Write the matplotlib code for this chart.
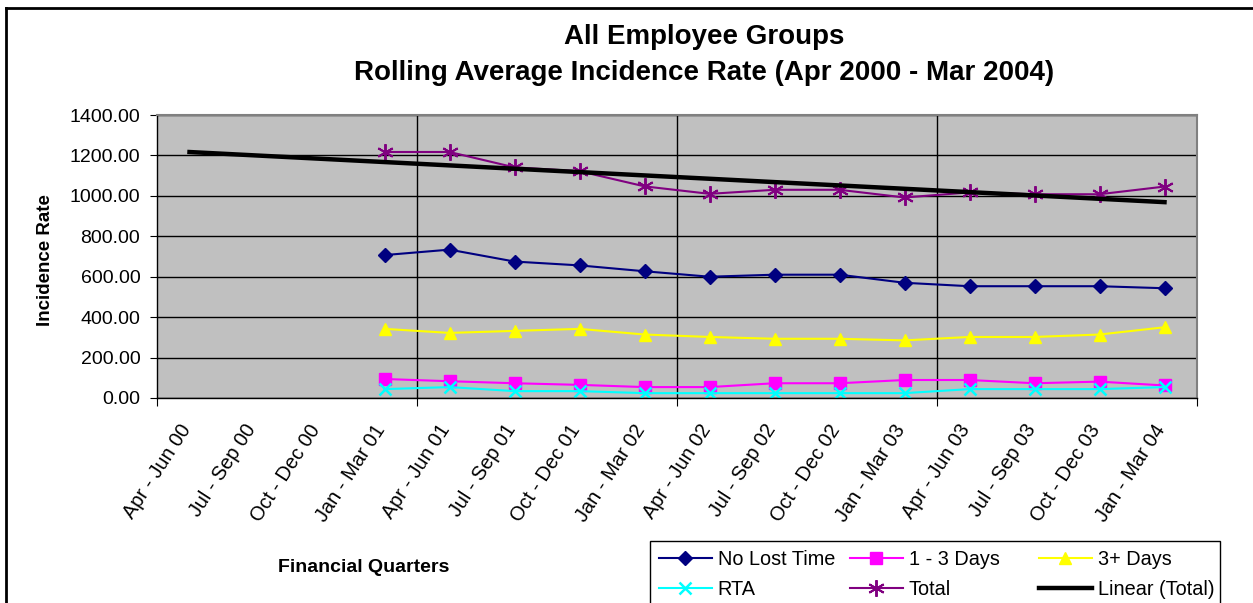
import numpy as np
import matplotlib
matplotlib.use("Agg")
import matplotlib.pyplot as plt
import matplotlib.transforms as mtransforms
from matplotlib.patches import Rectangle
from matplotlib.lines import Line2D

plt.rcParams['font.family'] = ['Liberation Sans', 'DejaVu Sans']

quarters = ["Apr - Jun 00", "Jul - Sep 00", "Oct - Dec 00", "Jan - Mar 01",
            "Apr - Jun 01", "Jul - Sep 01", "Oct - Dec 01", "Jan - Mar 02",
            "Apr - Jun 02", "Jul - Sep 02", "Oct - Dec 02", "Jan - Mar 03",
            "Apr - Jun 03", "Jul - Sep 03", "Oct - Dec 03", "Jan - Mar 04"]
data_start = 3  # first quarter with data (Jan - Mar 01)

no_lost_time = [707, 734, 675, 656, 627, 600, 610, 610, 570, 553, 553, 553, 543]
one_three_days = [94, 83, 73, 65, 54, 54, 73, 73, 89, 89, 73, 81, 62]
three_plus_days = [342, 322, 332, 342, 314, 302, 293, 293, 285, 302, 302, 314, 350]
rta = [44, 54, 34, 34, 24, 24, 24, 24, 24, 44, 44, 44, 54]
total = [1217, 1217, 1141, 1122, 1047, 1010, 1030, 1030, 992, 1017, 1008, 1008, 1046]

W, H = 1253, 603
fig = plt.figure(figsize=(W / 100, H / 100), dpi=100)
fig.patch.set_facecolor('white')

# outer chart border (only top and left visible in the crop)
fig.add_artist(Line2D([6 / W, 6 / W], [0, 1 - 8 / H], transform=fig.transFigure, color='black', lw=2))
fig.add_artist(Line2D([6 / W, 1], [1 - 8 / H, 1 - 8 / H], transform=fig.transFigure, color='black', lw=2))

ax = fig.add_axes([157 / W, 1 - 398 / H, (1197 - 157) / W, (398 - 115) / H])
ax.set_facecolor('#C0C0C0')

x = np.arange(data_start, data_start + len(total))
h_nlt, = ax.plot(x, no_lost_time, color='#000080', marker='D', ms=7.5, lw=1.5, label='No Lost Time')
h_13, = ax.plot(x, one_three_days, color='#FF00FF', marker='s', ms=8, lw=1.5, label='1 - 3 Days')
h_3p, = ax.plot(x, three_plus_days, color='#FFFF00', marker='^', ms=9, lw=1.5, label='3+ Days')
h_rta, = ax.plot(x, rta, color='#00FFFF', marker='x', ms=9, mew=1.8, lw=1.5, label='RTA')
h_tot, = ax.plot(x, total, color='#800080', marker=(6, 2, 0), ms=12, mew=1.4, lw=1.5, label='Total')

coef = np.polyfit(x, total, 1)
xt = np.arange(0, len(quarters))
h_lin, = ax.plot(xt, np.polyval(coef, xt), color='black', lw=3.2, label='Linear (Total)')

ax.set_xlim(-0.5, len(quarters) - 0.5)
ax.set_ylim(0, 1400)
ax.set_yticks(np.arange(0, 1401, 200))
ax.set_yticklabels([f"{v:.2f}" for v in np.arange(0, 1401, 200)], fontsize=14)
ax.yaxis.grid(True, color='black', lw=1)
ax.set_axisbelow(True)

ax.set_xticks([-0.5, 3.5, 7.5, 11.5, 15.5])
ax.set_xticklabels([])
ax.set_xticks(np.arange(len(quarters)), minor=True)
ax.tick_params(axis='x', which='minor', length=0, pad=8)
ax.tick_params(axis='x', which='major', length=6, direction='out', color='black')
ax.tick_params(axis='y', length=5, direction='out', color='black', pad=7)
ax.set_xticklabels(quarters, minor=True, rotation=57, ha='right', va='top',
                   rotation_mode='anchor', fontsize=14.3)
offset = mtransforms.ScaledTranslation(-11 / 100, -12 / 100, fig.dpi_scale_trans)
for lab in ax.xaxis.get_minorticklabels():
    lab.set_transform(lab.get_transform() + offset)
for xv in [3.5, 7.5, 11.5]:
    ax.axvline(xv, color='black', lw=1, zorder=0.5)

for s in ['top', 'right']:
    ax.spines[s].set_color('#808080')
    ax.spines[s].set_linewidth(1.5)
for s in ['left', 'bottom']:
    ax.spines[s].set_color('black')
    ax.spines[s].set_linewidth(1)

fig.text(704 / W, 1 - 37 / H, "All Employee Groups", ha='center', va='center',
         fontsize=20, fontweight='bold')
fig.text(704 / W, 1 - 73 / H, "Rolling Average Incidence Rate (Apr 2000 - Mar 2004)",
         ha='center', va='center', fontsize=20, fontweight='bold')
fig.text(45 / W, 1 - 260 / H, "Incidence Rate", ha='center', va='center',
         rotation=90, fontsize=13.5, fontweight='bold')
fig.text(364 / W, 1 - 568 / H, "Financial Quarters", ha='center', va='center',
         fontsize=14, fontweight='bold')

# legend: three equal-width columns inside one frame
fig.add_artist(Rectangle((650 / W, -0.05), (1220 - 650) / W, (1 - 541 / H) + 0.05,
                         transform=fig.transFigure, facecolor='white',
                         edgecolor='black', lw=1, zorder=2))
columns = [([h_nlt, h_rta], 659), ([h_13, h_tot], 850), ([h_3p, h_lin], 1039)]
for hs, xpos in columns:
    lg = fig.legend(hs, [h.get_label() for h in hs], loc='upper left',
                    bbox_to_anchor=(xpos / W, 1 - 550 / H), borderaxespad=0,
                    borderpad=0, frameon=False, fontsize=14.3, handlelength=2.65,
                    handletextpad=0.3, labelspacing=0.55)
    lg.set_zorder(3)

fig.savefig("out.png", dpi=100)
